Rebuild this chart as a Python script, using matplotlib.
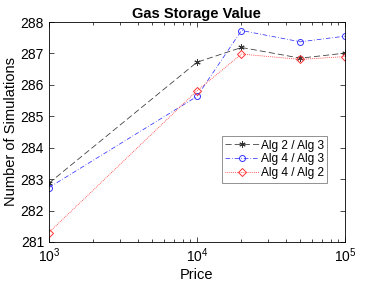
import numpy as np
import matplotlib
matplotlib.use("Agg")
import matplotlib.pyplot as plt

plt.rcParams['font.family'] = ['Liberation Sans', 'DejaVu Sans']

# data
price = [1e3, 1e4, 2e4, 5e4, 1e5]
alg2_alg3 = [282.87, 286.72, 287.19, 286.85, 287.01]
alg4_alg3 = [282.73, 285.63, 287.73, 287.37, 287.55]
alg4_alg2 = [281.3, 285.81, 286.98, 286.81, 286.9]
yticks = [281, 282, 283, 284, 285, 286, 287, 288]

fig = plt.figure(figsize=(3.82, 2.86), dpi=100)
ax = fig.add_axes([0.128, 0.154, 0.775, 0.769])

ax.plot(price, alg2_alg3, color='#333333', ls=(0, (8, 4)), lw=0.55, marker=(6, 2, 0),
        ms=4.5, mew=0.7, label='Alg 2 / Alg 3')
ax.plot(price, alg4_alg3, color='#3333ff', ls=(0, (6, 2.5, 1, 2.5)), lw=0.55, marker='o',
        ms=4.3, mfc='none', mew=0.7, label='Alg 4 / Alg 3')
ax.plot(price, alg4_alg2, color='#ff3333', ls=(0, (1, 1.3)), lw=0.6, marker='D',
        ms=3.8, mfc='none', mew=0.7, label='Alg 4 / Alg 2')

ax.set_xscale('log')
ax.set_xlim(1e3, 1e5)
ax.set_ylim(281, 288)
ax.set_yticks(yticks)
ax.tick_params(which='both', direction='in', top=True, right=True, labelsize=10, width=0.5)
ax.tick_params(which='major', length=3.5)
ax.tick_params(which='minor', length=2)
for s in ax.spines.values():
    s.set_linewidth(0.6)

ax.set_xlabel('Price', fontsize=10.5, labelpad=2)
ax.set_ylabel('Number of Simulations', fontsize=10.5, labelpad=2)
ax.set_title('Gas Storage Value', fontsize=10.5, fontweight='bold', pad=3)

leg = ax.legend(loc='upper left', bbox_to_anchor=(0.584, 0.482), fontsize=8.6,
                fancybox=False, edgecolor='gray', framealpha=1, handlelength=2.8,
                handletextpad=0.15, borderpad=0.3, labelspacing=0.15, borderaxespad=0)
leg.get_frame().set_linewidth(0.6)

fig.savefig('out.png', dpi=100)
